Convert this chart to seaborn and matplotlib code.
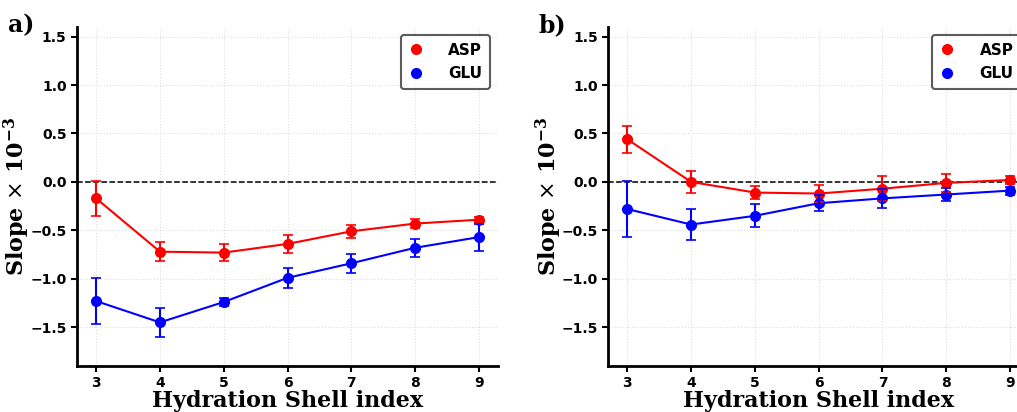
import numpy as np
import pandas as pd
import matplotlib
matplotlib.use('Agg')
import matplotlib.pyplot as plt
import seaborn as sns
from matplotlib.lines import Line2D

shells = [3, 4, 5, 6, 7, 8, 9]

# panel a
asp_a = [-0.17, -0.72, -0.73, -0.64, -0.51, -0.43, -0.39]
asp_a_err = [0.18, 0.10, 0.09, 0.09, 0.07, 0.05, 0.03]
glu_a = [-1.23, -1.45, -1.24, -0.99, -0.84, -0.68, -0.57]
glu_a_err = [0.24, 0.15, 0.04, 0.10, 0.10, 0.09, 0.14]

# panel b
asp_b = [0.44, 0.00, -0.11, -0.12, -0.07, -0.01, 0.02]
asp_b_err = [0.14, 0.11, 0.07, 0.09, 0.13, 0.09, 0.04]
glu_b = [-0.28, -0.44, -0.35, -0.22, -0.17, -0.13, -0.09]
glu_b_err = [0.29, 0.16, 0.12, 0.08, 0.10, 0.07, 0.04]

colors = {'ASP': 'red', 'GLU': 'blue'}

sns.set_style('ticks')
plt.rcParams['mathtext.fontset'] = 'dejavuserif'
plt.rcParams['text.color'] = 'black'
plt.rcParams['axes.labelcolor'] = 'black'
plt.rcParams['xtick.color'] = 'black'
plt.rcParams['ytick.color'] = 'black'
plt.rcParams['axes.edgecolor'] = 'black'


def draw_panel(ax, asp, asp_err, glu, glu_err, tag):
    df = pd.DataFrame({
        'shell': shells * 2,
        'slope': asp + glu,
        'err': asp_err + glu_err,
        'res': ['ASP'] * len(shells) + ['GLU'] * len(shells),
    })
    ax.grid(True, color='#dddddd', linestyle=':', linewidth=0.8)
    ax.axhline(0, color='black', linestyle='--', linewidth=1.1, zorder=1)
    sns.lineplot(data=df, x='shell', y='slope', hue='res', palette=colors,
                 marker='o', markersize=8, markeredgewidth=0, linewidth=1.5,
                 ax=ax, legend=False, zorder=3)
    for name, sub in df.groupby('res'):
        ax.errorbar(sub['shell'], sub['slope'], yerr=sub['err'], fmt='none',
                    ecolor=colors[name], elinewidth=1.5, capsize=3.5, capthick=1.2,
                    zorder=3)
    ax.set_xlim(2.7, 9.3)
    ax.set_ylim(-1.9, 1.6)
    ax.set_xticks(shells)
    ax.set_yticks([-1.5, -1.0, -0.5, 0.0, 0.5, 1.0, 1.5])
    ax.set_yticklabels(['\u22121.5', '\u22121.0', '\u22120.5', '0.0', '0.5', '1.0', '1.5'])
    for lab in ax.get_xticklabels() + ax.get_yticklabels():
        lab.set_fontweight('bold')
        lab.set_fontsize(10)
    ax.tick_params(width=1.5, length=4)
    for s in ['top', 'right']:
        ax.spines[s].set_visible(False)
    for s in ['left', 'bottom']:
        ax.spines[s].set_linewidth(2)
    ax.set_xlabel('Hydration Shell index', fontsize=16, fontweight='bold',
                  family='DejaVu Serif', labelpad=0)
    ax.set_ylabel(r'Slope $\times$ $\mathbf{10^{-3}}$', fontsize=16, fontweight='bold',
                  family='DejaVu Serif')
    ax.yaxis.set_label_coords(-0.106, 0.5)
    handles = [Line2D([], [], marker='o', color=colors[k], linestyle='none',
                      markersize=7) for k in ['ASP', 'GLU']]
    leg = ax.legend(handles, ['ASP', 'GLU'], loc='upper right',
                    prop={'weight': 'bold', 'size': 11}, frameon=True,
                    fancybox=True, handlelength=1.0, handletextpad=1.6,
                    borderpad=0.5, labelspacing=0.55, borderaxespad=0,
                    bbox_to_anchor=(0.981, 0.976))
    leg.get_frame().set_edgecolor('#333333')
    leg.get_frame().set_linewidth(1.5)
    ax.text(-0.165, 1.04, tag, transform=ax.transAxes, fontsize=17,
            fontweight='bold', family='DejaVu Serif', va='top', ha='left')


fig = plt.figure(figsize=(10.17, 4.12), dpi=100)
ax1 = fig.add_axes([0.0757, 0.1117, 0.414, 0.823])
ax2 = fig.add_axes([0.598, 0.1117, 0.414, 0.823])

draw_panel(ax1, asp_a, asp_a_err, glu_a, glu_a_err, 'a)')
draw_panel(ax2, asp_b, asp_b_err, glu_b, glu_b_err, 'b)')

fig.savefig('out.png', dpi=100)
